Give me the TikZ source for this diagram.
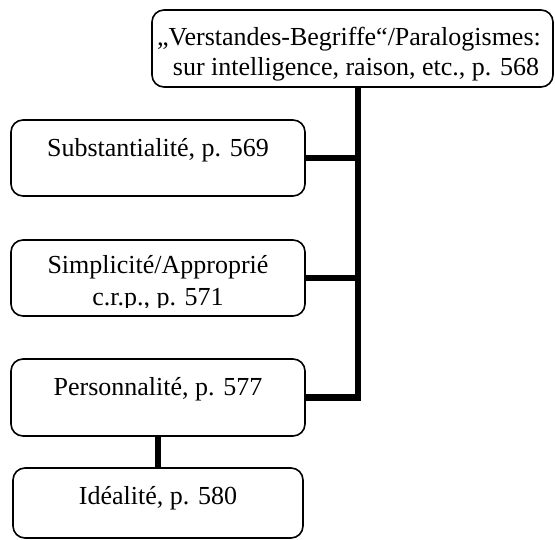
\documentclass[tikz,border=0pt]{standalone}
\usepackage{fontspec}
\setmainfont{Liberation Serif}
\usetikzlibrary{calc}
\begin{document}
\begin{tikzpicture}[x=1pt,y=-1pt,
  box/.style={draw,line width=1.6pt,rounded corners=12pt,inner sep=0pt},
  txt/.style={font=\fontsize{26}{30}\selectfont,inner sep=0pt,anchor=base},
  conn/.style={line width=6.5pt,line join=miter}]
\useasboundingbox (0,0) rectangle (555,539);
% boxes
\node[box,minimum width=401pt,minimum height=77pt] (top) at (352.5,48.5) {};
\node[box,minimum width=294pt,minimum height=76pt] (sub) at (158,158) {};
\node[box,minimum width=294pt,minimum height=76pt] (sim) at (158,278) {};
\node[box,minimum width=294pt,minimum height=77pt] (per) at (158,397.5) {};
\node[box,minimum width=290pt,minimum height=70pt] (ide) at (158,503) {};
% texts
\node[txt] (topa) at (349,45) {„Verstandes-Begriffe“/Paralogismes:};
\node[txt] (topb) at (356,75) {sur intelligence, raison, etc., p. 568};
\node[txt] (subt) at (158,156) {Substantialité, p. 569};
\node[txt] (sima) at (158,273) {Simplicité/Approprié};
\begin{scope}
  \clip (0,0) rectangle (555,307);
  \node[txt] (simb) at (158,305) {c.r.p., p. 571};
\end{scope}
\node[txt] (pert) at (158,395) {Personnalité, p. 577};
\node[txt] (idet) at (158,504) {Idéalité, p. 580};
% connectors
\coordinate (trunk) at ([xshift=5.5pt]top.south);
\draw[conn] (trunk) |- (per.east);
\draw[conn] (sub.east) -- (sub.east -| trunk);
\draw[conn] (sim.east) -- (sim.east -| trunk);
\draw[conn] (per.south) -- (ide.north);
\end{tikzpicture}
\end{document}
